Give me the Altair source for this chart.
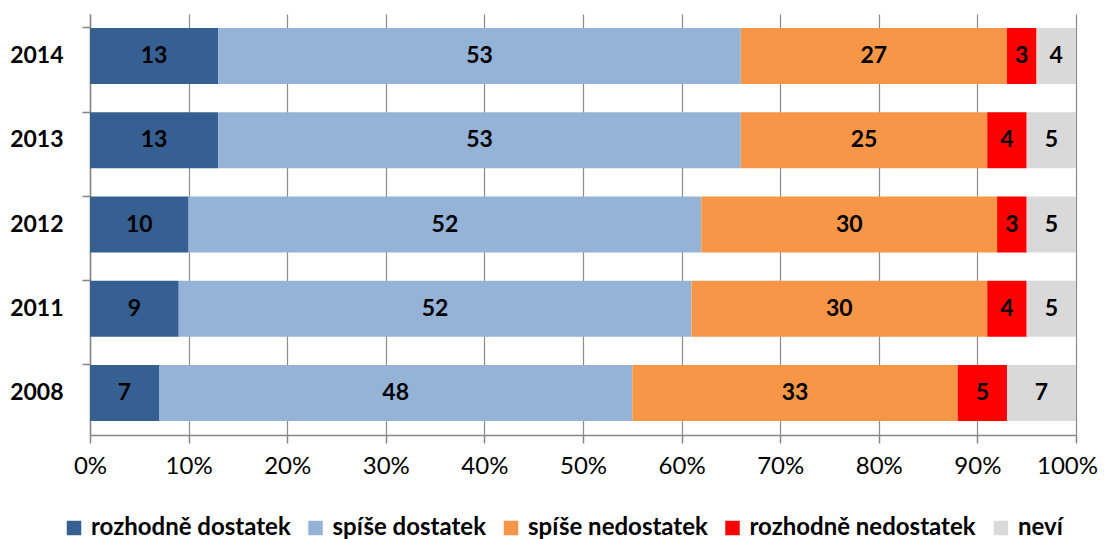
import altair as alt
import pandas as pd

years = ["2014", "2013", "2012", "2011", "2008"]
categories = ["rozhodně dostatek", "spíše dostatek", "spíše nedostatek", "rozhodně nedostatek", "neví"]
rozhodne_dostatek = [13, 13, 10, 9, 7]
spise_dostatek = [53, 53, 52, 52, 48]
spise_nedostatek = [27, 25, 30, 30, 33]
rozhodne_nedostatek = [3, 4, 3, 4, 5]
nevi = [4, 5, 5, 5, 7]
colors = ["#376092", "#95B3D7", "#F79646", "#FF0000", "#D9D9D9"]

series = [rozhodne_dostatek, spise_dostatek, spise_nedostatek, rozhodne_nedostatek, nevi]
rows = []
for ci, (cat, vals) in enumerate(zip(categories, series)):
    for y, v in zip(years, vals):
        rows.append({"year": y, "cat": cat, "order": ci, "value": v})
df = pd.DataFrame(rows)

FONT = "Lato"

base = alt.Chart(df).transform_stack(
    stack="value", as_=["x0", "x1"], groupby=["year"], sort=[alt.SortField("order", order="ascending")]
).transform_calculate(mid="(datum.x0 + datum.x1) / 2")

yenc = alt.Y("year:N", sort=years, title=None,
             scale=alt.Scale(paddingInner=0.33, paddingOuter=0.165),
             axis=alt.Axis(bandPosition=0, tickSize=8, tickColor="#868686", domainColor="#868686",
                           domainWidth=1.5, tickWidth=1.5,
                           labelFont=FONT, labelFontSize=23, labelFontWeight="bold", labelColor="#000000",
                           labelPadding=19, grid=False))

bars = base.mark_bar(size=56).encode(
    x=alt.X("x0:Q", title=None,
            scale=alt.Scale(domain=[0, 100], nice=False),
            axis=alt.Axis(values=list(range(0, 101, 10)), labelExpr="datum.value + '%'",
                          labelFlush=False, labelOverlap=False,
                          labelOffset={"expr": "datum.value == 100 ? -9 : 0"},
                          grid=True, gridColor="#8c8c8c", gridWidth=1.2, tickSize=8,
                          tickColor="#868686", domainColor="#868686", domainWidth=1.5, tickWidth=1.5,
                          labelFont=FONT, labelFontSize=24, labelColor="#000000", labelPadding=11)),
    x2="x1:Q",
    y=yenc,
    color=alt.Color("cat:N", sort=categories,
                    scale=alt.Scale(domain=categories, range=colors),
                    legend=alt.Legend(title=None, orient="none", direction="horizontal",
                                      legendX=-28, legendY=502, columns=5, columnPadding=12.5,
                                      symbolType="square", symbolSize=210, symbolStrokeWidth=0,
                                      labelFont=FONT, labelFontSize=24, labelFontWeight="bold",
                                      labelColor="#000000", labelOffset=5, labelLimit=400)),
    order=alt.Order("order:Q"),
)

labels = base.mark_text(font=FONT, fontSize=23, fontWeight="bold", color="#000000", baseline="middle").encode(
    x=alt.X("mid:Q"),
    y=alt.Y("year:N", sort=years),
    text=alt.Text("value:Q"),
)

chart = alt.layer(bars, labels).properties(
    width=986, height=421,
    autosize=alt.AutoSizeParams(type="none"),
    padding={"left": 82, "top": 6, "right": 22, "bottom": 104},
).configure_view(stroke=None)

chart.save("out.html", embed_options={"renderer": "svg", "actions": False})
